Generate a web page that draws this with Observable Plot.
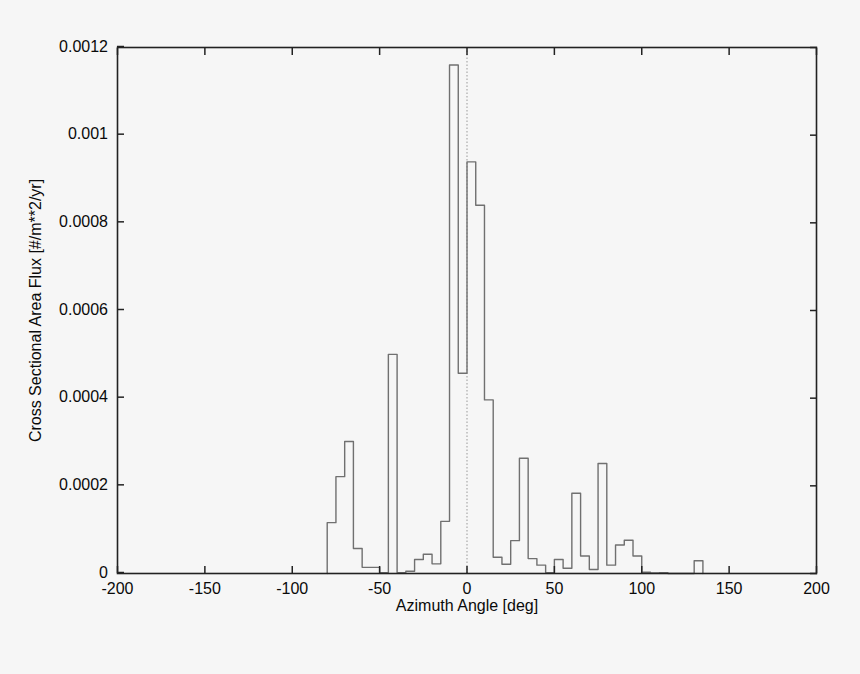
<!DOCTYPE html>
<html>
<head>
<meta charset="utf-8">
<script src="https://cdn.jsdelivr.net/npm/d3@7"></script>
<script src="https://cdn.jsdelivr.net/npm/@observablehq/plot@0.6"></script>
<style>
  html, body { margin: 0; padding: 0; background: #f6f6f6; }
  #chart svg { display: block; }
</style>
</head>
<body>
<div id="chart"></div>
<script>
// Histogram bins (left edge, degrees), bin width 5
const binStart = [-80, -75, -70, -65, -60, -55, -50, -45, -40, -35, -30, -25, -20, -15, -10, -5,
  0, 5, 10, 15, 20, 25, 30, 35, 40, 45, 50, 55, 60, 65, 70, 75, 80, 85, 90, 95, 100, 105, 110,
  115, 120, 125, 130];
const binEnd = 135;
const flux = [0.000116, 0.000221, 0.000301, 0.000057, 0.000014, 0.000014, 0.000002, 0.0005,
  0.000002, 0.000005, 0.000032, 0.000044, 0.000022, 0.000119, 0.00116, 0.000457,
  0.000939, 0.00084, 0.000396, 0.000037, 0.000021, 0.000075, 0.000263, 0.000034, 0.000019,
  0.000002, 0.000032, 0.000012, 0.000183, 0.00004, 0.000009, 0.000251, 0.000019, 0.000065,
  0.000076, 0.00004, 0.000003, 0.000001, 0.000002, 0, 0, 0, 0.000029];
const xTicks = [-200, -150, -100, -50, 0, 50, 100, 150, 200];
const yTicks = [0, 0.0002, 0.0004, 0.0006, 0.0008, 0.001, 0.0012];

// step outline: start on baseline, one point per bin, end on baseline
const steps = [{x: binStart[0], y: 0}]
  .concat(binStart.map((x, i) => ({x, y: flux[i]})))
  .concat([{x: binEnd, y: 0}]);

const font = "'Liberation Sans', Arial, sans-serif";

const chart = Plot.plot({
  width: 860,
  height: 674,
  marginLeft: 117,
  marginRight: 44,
  marginTop: 47,
  marginBottom: 101,
  style: {background: "#f6f6f6", fontFamily: font, fontSize: "16px", color: "#0a0a0a"},
  x: {domain: [-200, 200]},
  y: {domain: [0, 0.0012]},
  marks: [
    Plot.ruleX([0], {stroke: "#999", strokeDasharray: "1.5,2", strokeWidth: 1}),
    Plot.line(steps, {x: "x", y: "y", curve: "step-after", stroke: "#707070", strokeWidth: 1.4}),
    Plot.axisX({ticks: xTicks, tickSize: -7, tickPadding: 16.5, tickFormat: d => String(d),
      stroke: "#222", strokeWidth: 1.5, fill: "#0a0a0a", fontSize: 16,
      label: "Azimuth Angle [deg]", labelAnchor: "center", labelOffset: 37, labelArrow: "none"}),
    Plot.axisX({anchor: "top", ticks: xTicks, tickSize: -7, tickFormat: () => "", stroke: "#222", strokeWidth: 1.5, label: null}),
    Plot.axisY({ticks: yTicks, tickSize: -7, tickPadding: 16.5, tickFormat: d => String(d),
      stroke: "#222", strokeWidth: 1.5, fill: "#0a0a0a", fontSize: 16, dy: -1,
      label: "Cross Sectional Area Flux [#/m**2/yr]", labelAnchor: "center", labelOffset: 88, labelArrow: "none"}),
    Plot.axisY({anchor: "right", ticks: yTicks, tickSize: -7, tickFormat: () => "", stroke: "#222", strokeWidth: 1.5, label: null}),
    Plot.frame({stroke: "#222", strokeWidth: 1.6})
  ]
});
document.getElementById("chart").appendChild(chart);
</script>
</body>
</html>
